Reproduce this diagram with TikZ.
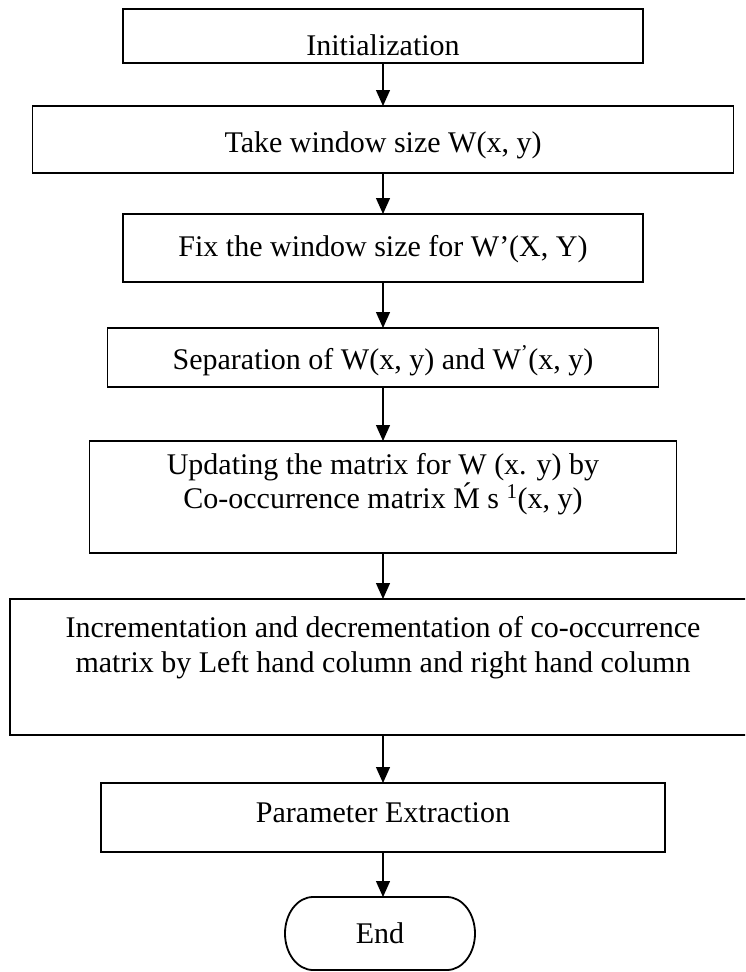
\documentclass[tikz,border=0pt]{standalone}
\usepackage{fontspec}
\setmainfont{Liberation Serif}
\usetikzlibrary{arrows.meta}
\begin{document}
\begin{tikzpicture}[x=1pt,y=-1pt,
  stepbox/.style={draw, line width=1.8pt, inner sep=0pt, outer sep=0pt},
  endline/.style={line width=1.8pt},
  txt/.style={anchor=base, inner sep=0pt, font=\fontsize{30}{35}\selectfont},
  flow/.style={line width=1.3pt, -{Triangle[width=14pt,length=16pt]}}]
\useasboundingbox (0,0) rectangle (745,972);
\clip (0,0) rectangle (745,972);

% process boxes
\node[stepbox, minimum width=519.5pt, minimum height=54pt]  (init)  at (383,36)    {};
\node[stepbox, minimum width=701pt,   minimum height=67pt]  (take)  at (383,139.5) {};
\node[stepbox, minimum width=519.5pt, minimum height=68pt]  (fix)   at (383,248)   {};
\node[stepbox, minimum width=551pt,   minimum height=59pt]  (sep)   at (383,357.5) {};
\node[stepbox, minimum width=587pt,   minimum height=112pt] (upd)   at (383,497)   {};
\node[stepbox, minimum width=745.5pt, minimum height=136pt] (incr)  at (383,667)   {};
\node[stepbox, minimum width=564pt,   minimum height=69pt]  (param) at (383,817.5) {};

% terminal: flat top and bottom with elliptic ends
\node[inner sep=0pt, outer sep=0pt, minimum width=190pt, minimum height=73pt] (stop) at (380,933.5) {};
\draw[endline] ([xshift=28pt]stop.north west) -- ([xshift=-28pt]stop.north east)
  arc[start angle=-90, end angle=90, x radius=28, y radius=36.5]
  -- ([xshift=28pt]stop.south west)
  arc[start angle=90, end angle=270, x radius=28, y radius=36.5] -- cycle;

% box texts
\node[txt] (init-t)  at (383,55)  {Initialization};
\node[txt] (take-t)  at (383,152) {Take window size W(x, y)};
\node[txt] (fix-t)   at (383,256) {Fix the window size for W’(X, Y)};
\node[txt] (sep-t)   at (383,369) {Separation of W(x, y) and W\textsuperscript{’}(x, y)};
\node[txt] (upd-a)   at (383,474) {Updating the matrix for W (x. y) by};
\node[txt] (upd-b)   at (383,508) {Co-occurrence matrix \'{M} s \textsuperscript{1}(x, y)};
\node[txt] (incr-a)  at (383,637) {Incrementation and decrementation of co-occurrence};
\node[txt] (incr-b)  at (383,672) {matrix by Left hand column and right hand column};
\node[txt] (param-t) at (383,822) {Parameter Extraction};
\node[txt] (stop-t)  at (380,943) {End};

% connectors
\draw[flow] (init.south)  -- (take.north);
\draw[flow] (take.south)  -- (fix.north);
\draw[flow] (fix.south)   -- (sep.north);
\draw[flow] (sep.south)   -- (upd.north);
\draw[flow] (upd.south)   -- (incr.north);
\draw[flow] (incr.south)  -- (param.north);
\draw[flow] (param.south) -- (param.south |- stop.north);
\end{tikzpicture}
\end{document}
